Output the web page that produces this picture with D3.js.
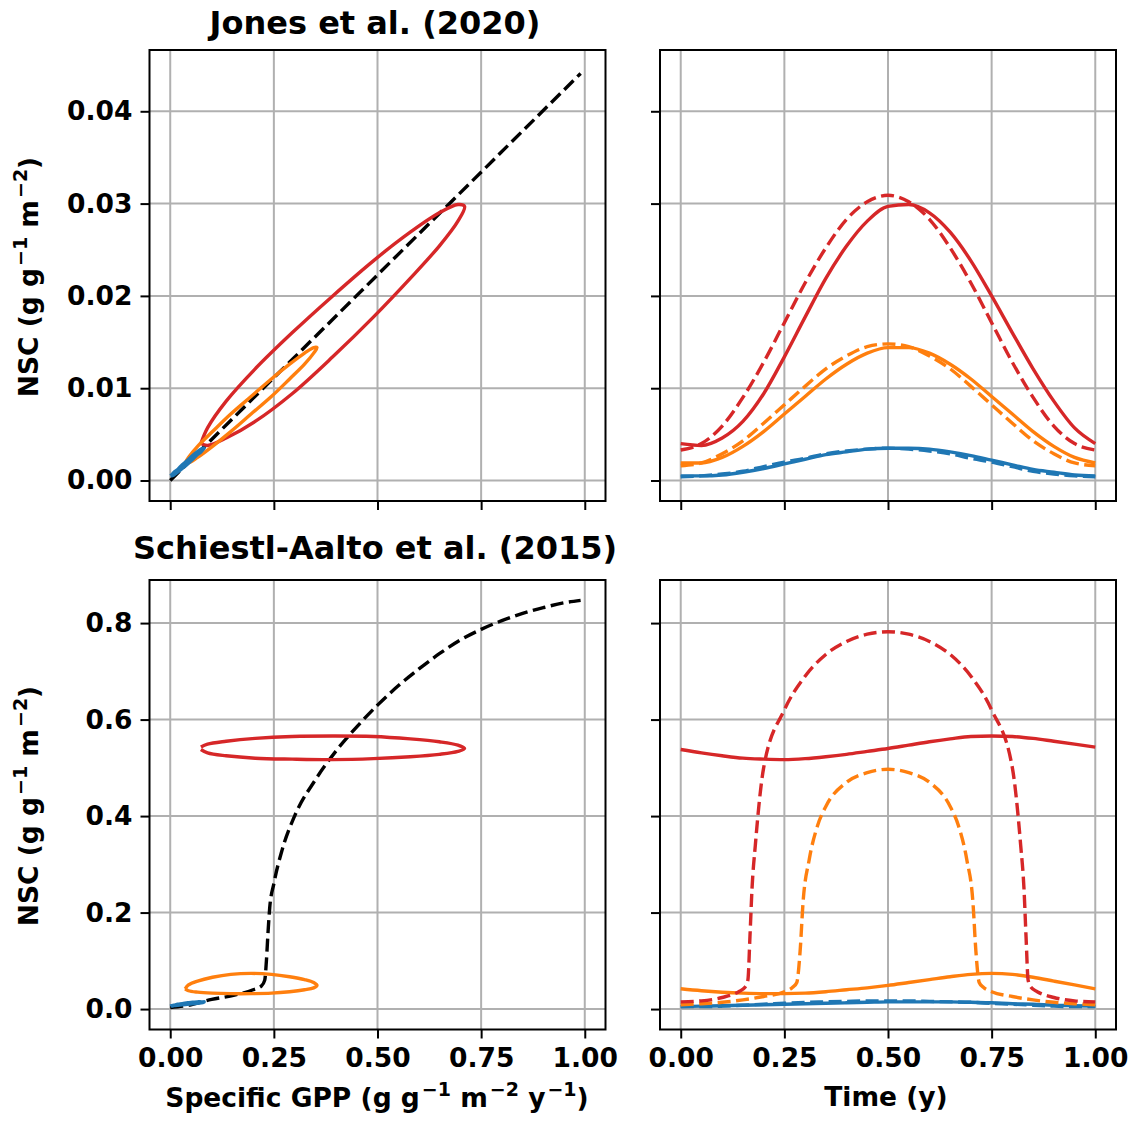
<!DOCTYPE html>
<html>
<head>
<meta charset="utf-8">
<script src="https://cdn.jsdelivr.net/npm/d3@7"></script>
<style>
  body { margin: 0; background: #fff; }
  text { font-family: "DejaVu Sans", sans-serif; font-weight: bold; fill: #000; }
</style>
</head>
<body>
<div id="chart"></div>
<script>
// ---- data ----
const time = [0,0.05,0.1,0.15,0.2,0.25,0.3,0.35,0.4,0.45,0.5,0.55,0.6,0.65,0.7,0.75,0.8,0.85,0.9,0.95,1];

// specific GPP over the year (x of the loops)
const gppRed    = [0.074,0.090,0.135,0.205,0.294,0.392,0.490,0.579,0.649,0.694,0.710,0.694,0.649,0.579,0.490,0.392,0.294,0.205,0.135,0.090,0.074];
const gppOrange = [0.036,0.044,0.066,0.102,0.146,0.195,0.244,0.288,0.324,0.346,0.354,0.346,0.324,0.288,0.244,0.195,0.146,0.102,0.066,0.044,0.036];
const gppBlue   = [0.001,0.003,0.009,0.018,0.029,0.042,0.054,0.065,0.074,0.080,0.082,0.080,0.074,0.065,0.054,0.042,0.029,0.018,0.009,0.003,0.001];

// Jones et al. (2020)
const jonesRed      = [0.0040,0.0038,0.0046,0.0064,0.0094,0.0134,0.0177,0.0219,0.0254,0.0281,0.0297,0.0299,0.0290,0.0269,0.0238,0.0200,0.0160,0.0121,0.0086,0.0057,0.0040];
const jonesRedEq    = [0.0033,0.0040,0.0059,0.0090,0.0128,0.0171,0.0214,0.0252,0.0283,0.0302,0.0309,0.0302,0.0283,0.0252,0.0214,0.0171,0.0128,0.0090,0.0059,0.0040,0.0033];
const jonesOrange   = [0.0019,0.0019,0.0025,0.0037,0.0053,0.0072,0.0091,0.0110,0.0126,0.0138,0.0144,0.0144,0.0138,0.0126,0.0110,0.0091,0.0072,0.0053,0.0037,0.0025,0.0019];
const jonesOrangeEq = [0.0016,0.0019,0.0029,0.0043,0.0062,0.0082,0.0102,0.0121,0.0135,0.0145,0.0148,0.0145,0.0135,0.0121,0.0102,0.0082,0.0062,0.0043,0.0029,0.0019,0.0016];
const jonesBlue     = [0.0005,0.0005,0.0006,0.0009,0.0013,0.0018,0.0023,0.0028,0.0031,0.0034,0.0035,0.0035,0.0034,0.0031,0.0027,0.0022,0.0017,0.0012,0.0009,0.0006,0.0005];
const jonesBlueEq   = [0.0004,0.0005,0.0007,0.0010,0.0015,0.0020,0.0024,0.0029,0.0032,0.0034,0.0035,0.0034,0.0032,0.0029,0.0024,0.0020,0.0015,0.0010,0.0007,0.0005,0.0004];
const jonesLineGpp  = [0, 0.99];
const jonesLineNsc  = [0, 0.0441];

// Schiestl-Aalto et al. (2015)
const schRed    = [0.538,0.531,0.525,0.520,0.518,0.517,0.519,0.523,0.528,0.534,0.540,0.547,0.554,0.560,0.565,0.566,0.565,0.561,0.555,0.549,0.543];
const schOrange = [0.042,0.038,0.035,0.033,0.032,0.032,0.033,0.036,0.040,0.044,0.049,0.055,0.061,0.067,0.072,0.074,0.072,0.066,0.058,0.050,0.042];
const schBlue   = [0.005,0.006,0.007,0.008,0.009,0.010,0.011,0.012,0.013,0.014,0.015,0.015,0.015,0.015,0.014,0.013,0.011,0.010,0.008,0.007,0.006];
const schBlueEq = [0.005,0.005,0.006,0.008,0.010,0.012,0.014,0.015,0.016,0.017,0.017,0.017,0.016,0.015,0.014,0.012,0.010,0.008,0.006,0.005,0.005];
const schRedEqTime = [0,0.05,0.10,0.14,0.155,0.162,0.167,0.172,0.18,0.20,0.25,0.30,0.35,0.40,0.45,0.50,0.55,0.60,0.65,0.70,0.75,0.80,0.82,0.828,0.833,0.838,0.845,0.86,0.90,0.95,1.0];
const schRedEq     = [0.015,0.017,0.024,0.036,0.045,0.06,0.15,0.25,0.34,0.50,0.62,0.69,0.735,0.762,0.777,0.782,0.777,0.762,0.735,0.69,0.62,0.50,0.34,0.25,0.15,0.06,0.045,0.036,0.024,0.017,0.015];
const schOrangeEqTime = [0,0.05,0.10,0.15,0.20,0.25,0.27,0.28,0.288,0.295,0.31,0.33,0.35,0.40,0.45,0.50,0.55,0.60,0.65,0.67,0.69,0.705,0.712,0.72,0.73,0.75,0.80,0.85,0.90,0.95,1.0];
const schOrangeEq     = [0.009,0.011,0.014,0.019,0.026,0.036,0.045,0.055,0.12,0.22,0.31,0.38,0.42,0.47,0.49,0.497,0.49,0.47,0.42,0.38,0.31,0.22,0.12,0.055,0.045,0.036,0.026,0.019,0.014,0.011,0.009];
const schLineGpp = [0,0.05,0.10,0.15,0.20,0.22,0.228,0.232,0.236,0.24,0.25,0.27,0.30,0.35,0.40,0.45,0.50,0.55,0.60,0.65,0.70,0.75,0.80,0.85,0.90,0.95,0.99];
const schLineNsc = [0.003,0.009,0.020,0.028,0.040,0.048,0.060,0.10,0.16,0.21,0.26,0.33,0.40,0.475,0.535,0.585,0.63,0.67,0.705,0.737,0.765,0.787,0.805,0.82,0.832,0.842,0.847];

const xTicks = [0, 0.25, 0.5, 0.75, 1.0];
const yTicksTop = [0, 0.01, 0.02, 0.03, 0.04];
const yTicksBottom = [0, 0.2, 0.4, 0.6, 0.8];

const RED = "#d62728", ORANGE = "#ff7f0e", BLUE = "#1f77b4";
const FS = 26.5;

// ---- drawing ----
const svg = d3.select("#chart").append("svg")
  .attr("width", 1130)
  .attr("height", 1122);

let clipCount = 0;
function makePanel(left, top, w, h, yDom, yTicks, yFmt, showY, showX) {
  const x = d3.scaleLinear().domain([-0.05, 1.05]).range([0, w]);
  const y = d3.scaleLinear().domain(yDom).range([h, 0]);
  const g = svg.append("g").attr("transform", `translate(${left},${top})`);

  g.append("g").selectAll("line").data(xTicks).join("line")
    .attr("x1", d => x(d)).attr("x2", d => x(d))
    .attr("y1", 0).attr("y2", h)
    .attr("stroke", "#b0b0b0").attr("stroke-width", 2);
  g.append("g").selectAll("line").data(yTicks).join("line")
    .attr("y1", d => y(d)).attr("y2", d => y(d))
    .attr("x1", 0).attr("x2", w)
    .attr("stroke", "#b0b0b0").attr("stroke-width", 2);

  const id = "clip" + (clipCount++);
  g.append("clipPath").attr("id", id)
    .append("rect").attr("width", w).attr("height", h);
  const plot = g.append("g").attr("clip-path", `url(#${id})`);

  const xa = g.append("g").attr("transform", `translate(0,${h})`)
    .call(d3.axisBottom(x).tickValues(xTicks).tickSize(9).tickPadding(10)
      .tickFormat(showX ? d3.format(".2f") : () => ""));
  const ya = g.append("g")
    .call(d3.axisLeft(y).tickValues(yTicks).tickSize(9).tickPadding(8)
      .tickFormat(showY ? d3.format(yFmt) : () => ""));
  [xa, ya].forEach(a => {
    a.select(".domain").remove();
    a.selectAll(".tick line").attr("stroke", "#000").attr("stroke-width", 2);
    a.selectAll(".tick text").attr("font-size", FS).attr("fill", "#000")
      .style("font-family", "DejaVu Sans").style("font-weight", "bold");
  });

  return {g, plot, x, y, w, h};
}

function frame(p) {
  p.g.append("rect").attr("width", p.w).attr("height", p.h)
    .attr("fill", "none").attr("stroke", "#000").attr("stroke-width", 2);
}

function drawSeries(p, xs, ys, color, dashed, curve) {
  const line = d3.line()
    .x((d, i) => p.x(xs[i]))
    .y((d, i) => p.y(ys[i]))
    .curve(curve);
  p.plot.append("path")
    .attr("d", line(xs))
    .attr("fill", "none")
    .attr("stroke", color)
    .attr("stroke-width", 3.4)
    .attr("stroke-linejoin", "round")
    .attr("stroke-dasharray", dashed ? "13,5.5" : null);
}

const PW = 456;
const tl = makePanel(149.5, 50, PW, 451, [-0.00222, 0.04664], yTicksTop, ".2f", true, false);
const tr = makePanel(660, 50, PW, 451, [-0.00222, 0.04664], yTicksTop, ".2f", false, false);
const bl = makePanel(149.5, 580, PW, 449.5, [-0.04235, 0.8893], yTicksBottom, ".1f", true, true);
const br = makePanel(660, 580, PW, 449.5, [-0.04235, 0.8893], yTicksBottom, ".1f", false, true);

const loop = d3.curveCatmullRom.alpha(0.5);
const smooth = d3.curveMonotoneX;

// top left: GPP vs NSC loops
drawSeries(tl, jonesLineGpp, jonesLineNsc, "#000", true, d3.curveLinear);
drawSeries(tl, gppRed, jonesRed, RED, false, loop);
drawSeries(tl, gppOrange, jonesOrange, ORANGE, false, loop);
drawSeries(tl, gppBlue, jonesBlue, BLUE, false, loop);

// top right: NSC over time
drawSeries(tr, time, jonesBlue, BLUE, false, smooth);
drawSeries(tr, time, jonesBlueEq, BLUE, true, smooth);
drawSeries(tr, time, jonesOrange, ORANGE, false, smooth);
drawSeries(tr, time, jonesOrangeEq, ORANGE, true, smooth);
drawSeries(tr, time, jonesRed, RED, false, smooth);
drawSeries(tr, time, jonesRedEq, RED, true, smooth);

// bottom left
drawSeries(bl, schLineGpp, schLineNsc, "#000", true, smooth);
drawSeries(bl, gppRed, schRed, RED, false, loop);
drawSeries(bl, gppOrange, schOrange, ORANGE, false, loop);
drawSeries(bl, gppBlue, schBlue, BLUE, false, loop);

// bottom right
drawSeries(br, time, schBlue, BLUE, false, smooth);
drawSeries(br, time, schBlueEq, BLUE, true, smooth);
drawSeries(br, time, schOrange, ORANGE, false, smooth);
drawSeries(br, schOrangeEqTime, schOrangeEq, ORANGE, true, smooth);
drawSeries(br, time, schRed, RED, false, smooth);
drawSeries(br, schRedEqTime, schRedEq, RED, true, smooth);

[tl, tr, bl, br].forEach(frame);

// titles
svg.append("text").attr("x", 375).attr("y", 34).attr("text-anchor", "middle")
  .attr("font-size", 32).text("Jones et al. (2020)");
svg.append("text").attr("x", 375).attr("y", 559).attr("text-anchor", "middle")
  .attr("font-size", 32).text("Schiestl-Aalto et al. (2015)");

// labels with superscripts
function richText(t, parts) {
  let shift = 0;
  parts.forEach(([s, sup]) => {
    const target = sup ? -11 : 0;
    t.append("tspan")
      .attr("dy", target - shift)
      .attr("dx", sup ? 2 : 0)
      .attr("font-size", sup ? 19 : FS)
      .text(s);
    shift = target;
  });
}

const nscParts = [["NSC (g g", 0], ["\u22121", 1], [" m", 0], ["\u22122", 1], [")", 0]];
[277, 806].forEach(cy => {
  const t = svg.append("text")
    .attr("transform", `translate(38,${cy}) rotate(-90)`)
    .attr("text-anchor", "middle")
    .attr("font-size", FS);
  richText(t, nscParts);
});

const gx = svg.append("text").attr("x", 377).attr("y", 1107)
  .attr("text-anchor", "middle").attr("font-size", FS);
richText(gx, [["Specific GPP (g g", 0], ["\u22121", 1], [" m", 0], ["\u22122", 1], [" y", 0], ["\u22121", 1], [")", 0]]);

svg.append("text").attr("x", 886).attr("y", 1106)
  .attr("text-anchor", "middle").attr("font-size", FS).text("Time (y)");
</script>
</body>
</html>
